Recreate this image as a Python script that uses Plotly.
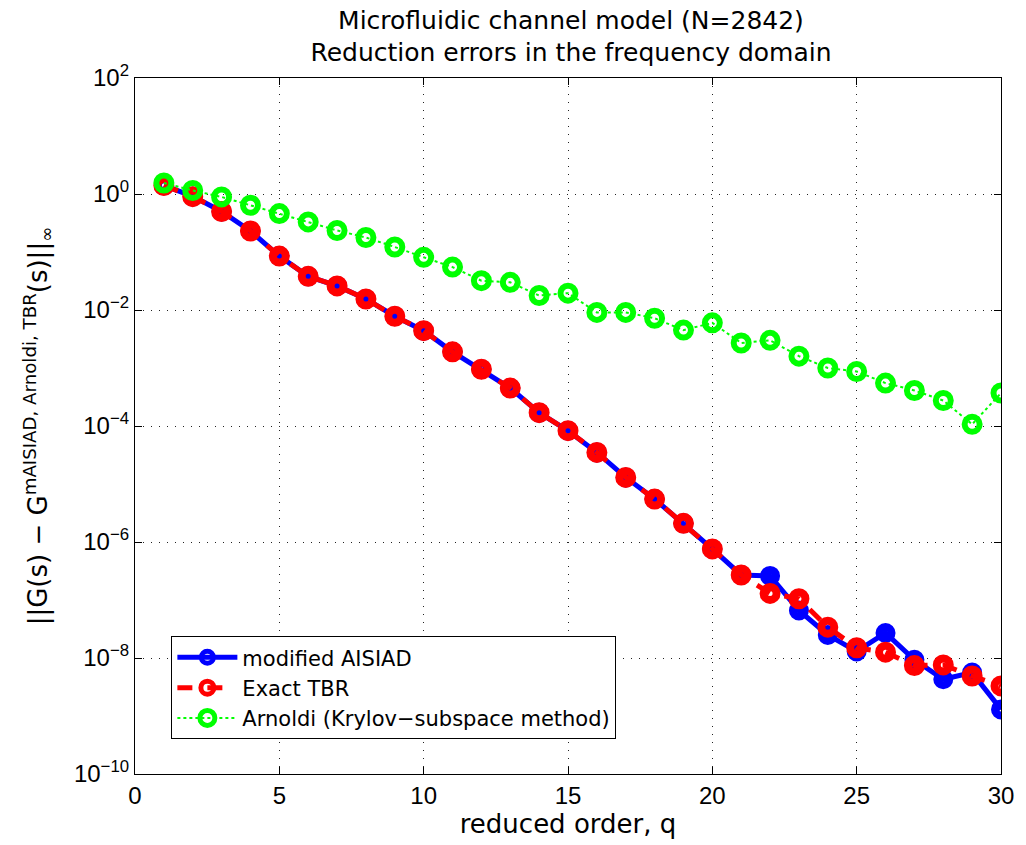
import plotly.graph_objects as go

q = list(range(1, 31))

aisiad = [1.41, 0.91, 0.50, 0.23, 0.085, 0.038, 0.026, 0.0155, 0.0078, 0.0044,
          0.0019, 9.5e-4, 4.5e-4, 1.7e-4, 8.3e-5, 3.5e-5, 1.3e-5, 5.5e-6, 2.1e-6, 7.6e-7,
          2.7e-7, 2.6e-7, 6.6e-8, 2.5e-8, 1.3e-8, 2.7e-8, 9.3e-9, 4.3e-9, 5.6e-9, 1.3e-9]

tbr = [1.40, 0.90, 0.50, 0.23, 0.085, 0.038, 0.026, 0.0155, 0.0078, 0.0044,
       0.0019, 9.5e-4, 4.5e-4, 1.7e-4, 8.3e-5, 3.5e-5, 1.3e-5, 5.5e-6, 2.1e-6, 7.6e-7,
       2.7e-7, 1.3e-7, 1.05e-7, 3.4e-8, 1.5e-8, 1.26e-8, 7.4e-9, 7.6e-9, 4.9e-9, 3.3e-9]

arnoldi = [1.55, 1.15, 0.89, 0.64, 0.46, 0.33, 0.235, 0.178, 0.122, 0.081,
           0.055, 0.032, 0.030, 0.0178, 0.0195, 0.0091, 0.0091, 0.0072, 0.0045, 0.0060,
           0.0027, 0.0030, 0.0016, 0.0010, 8.7e-4, 5.5e-4, 4.1e-4, 2.75e-4, 1.07e-4, 3.7e-4]

ytick_vals = [1e2, 1e0, 1e-2, 1e-4, 1e-6, 1e-8, 1e-10]
ytick_text = ["10<sup>2</sup>", "10<sup>0</sup>", "10<sup>\u22122</sup>", "10<sup>\u22124</sup>",
              "10<sup>\u22126</sup>", "10<sup>\u22128</sup>", "10<sup>\u221210</sup>"]
xtick_vals = [0, 5, 10, 15, 20, 25, 30]

TICKFONT = "Liberation Sans, Arial, sans-serif"
TEXTFONT = "DejaVu Sans, Liberation Sans, sans-serif"

fig = go.Figure()
fig.add_trace(go.Scatter(
    x=q, y=aisiad, mode="lines+markers", name="modified AISIAD",
    line=dict(color="#0000FF", width=5),
    marker=dict(symbol="circle-open", size=12, color="#0000FF", line=dict(width=8, color="#0000FF")),
))
fig.add_trace(go.Scatter(
    x=q, y=tbr, mode="lines+markers", name="Exact TBR",
    line=dict(color="#FF0000", width=5, dash="dash"),
    marker=dict(symbol="circle-open", size=13, color="#FF0000", line=dict(width=8, color="#FF0000")),
))
fig.add_trace(go.Scatter(
    x=q, y=arnoldi, mode="lines+markers", name="Arnoldi (Krylov\u2212subspace method)",
    line=dict(color="#00FF00", width=2, dash="dot"),
    marker=dict(symbol="circle-open", size=15, color="#00FF00", line=dict(width=6, color="#00FF00")),
))

axis_common = dict(
    showline=True, mirror="ticks", linecolor="black", linewidth=1.3,
    ticks="inside", ticklen=7, tickcolor="black",
    showgrid=True, gridcolor="#222222", gridwidth=1, griddash="1px,7px",
    zeroline=False, tickfont=dict(family=TICKFONT, size=24, color="black"),
)

fig.update_xaxes(
    range=[0, 30], tickvals=xtick_vals,
    title=dict(text="reduced order, q", font=dict(family=TEXTFONT, size=26, color="black"), standoff=2),
    **axis_common,
)
fig.update_yaxes(
    type="log", range=[-10, 2], tickvals=ytick_vals, ticktext=ytick_text,
    title=dict(text="||G(s) \u2212 G<sup>mAISIAD, Arnoldi, TBR</sup>(s)||<sub>\u221e</sub>",
               font=dict(family=TEXTFONT, size=26, color="black"), standoff=18),
    **axis_common,
)

fig.update_layout(
    width=1026, height=845,
    margin=dict(l=135, r=18, t=78, b=71),
    paper_bgcolor="white", plot_bgcolor="white",
    font=dict(family=TEXTFONT, size=24, color="black"),
    title=dict(text="Microfluidic channel model (N=2842)<br>Reduction errors in the frequency domain",
               x=0.5565, xanchor="center", y=0.966, yanchor="bottom", yref="container",
               font=dict(family=TEXTFONT, size=25, color="black")),
    legend=dict(x=0.042, y=0.198, xanchor="left", yanchor="top",
                bgcolor="white", bordercolor="black", borderwidth=1,
                font=dict(family=TEXTFONT, size=21, color="black"),
                tracegroupgap=0, itemwidth=60),
    showlegend=True,
)

fig.write_html("out.html")
